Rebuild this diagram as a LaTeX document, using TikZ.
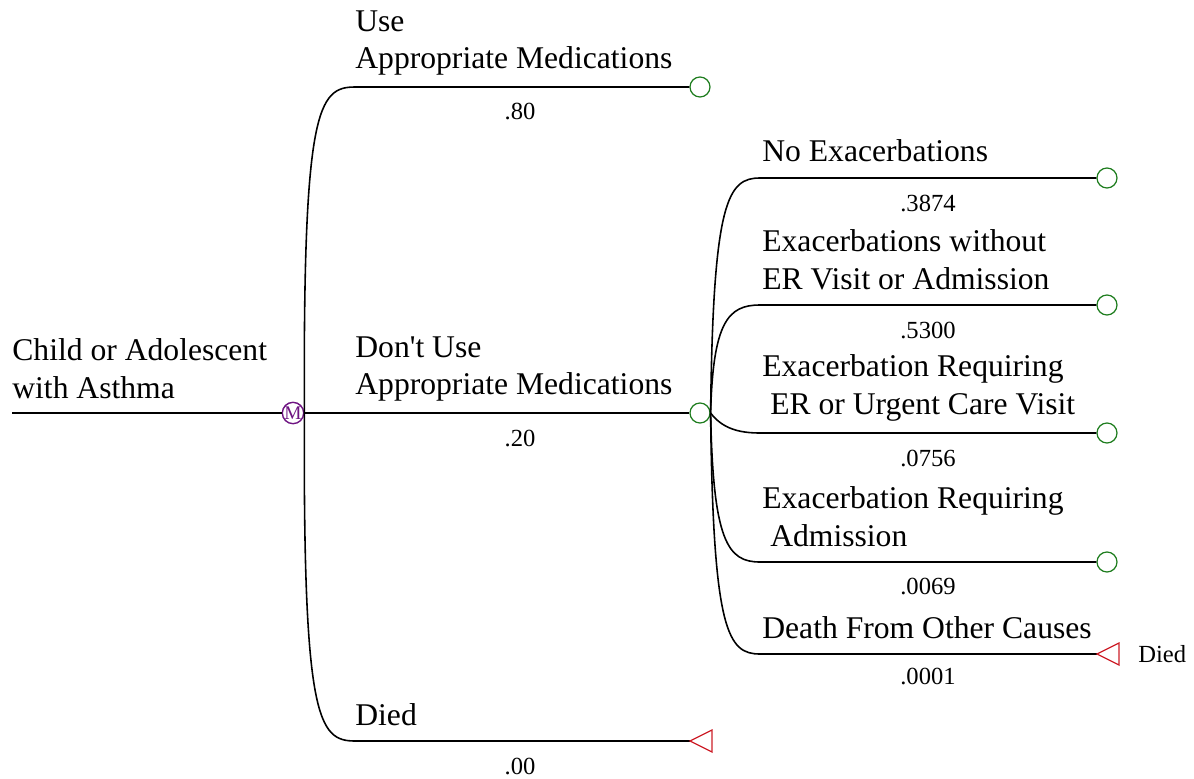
\documentclass[tikz,border=0pt]{standalone}
\usepackage{fontspec}
\setmainfont{Liberation Serif}
\definecolor{nodegreen}{RGB}{30,125,30}
\definecolor{nodepurple}{RGB}{110,20,130}
\definecolor{nodered}{RGB}{205,30,40}
\tikzset{
  branch/.style={black,line width=0.9pt},
  chance/.style={circle,draw=nodegreen,line width=0.7pt,minimum size=0.4cm,inner sep=0pt},
  markov/.style={circle,draw=nodepurple,text=nodepurple,line width=0.8pt,minimum size=0.36cm,inner sep=0pt,font=\fontsize{11}{11}\selectfont},
  died/.style={draw=nodered,line width=0.7pt},
  lbl/.style={anchor=west,align=left,inner sep=0pt,font=\fontsize{18}{21.5}\selectfont},
  prob/.style={inner sep=0pt,font=\fontsize{14}{14}\selectfont}
}
\begin{document}
\begin{tikzpicture}[x=0.02cm,y=-0.02cm]
  \useasboundingbox (0,0) rectangle (1194,778);

  % root and markov node
  \coordinate (root) at (12,413);
  \node[markov] (mk) at (293,413) {M};
  \draw[branch] (root) -- (mk.west);
  \node[lbl] (rootlbl) at (12,369) {Child or Adolescent\\with Asthma};

  % first level
  \node[chance] (use) at (700,87) {};
  \node[chance] (nouse) at (700,413) {};
  \coordinate (dd) at (690,741);
  \coordinate (usein) at (355,87);
  \coordinate (ddin) at (355,741);
  \draw[branch] (mk.east) .. controls (303,110) and (318,87) .. (usein) -- (use.west);
  \draw[branch] (mk.east) -- (nouse.west);
  \draw[branch] (mk.east) .. controls (303,718) and (318,741) .. (ddin) -- (dd);
  \draw[died] (dd) -- ++(22,-11) -- ++(0,22) -- cycle;

  \node[lbl] (uselbl) at (355,43) {Use\\Appropriate Medications};
  \node[lbl] (nouselbl) at (355,369) {Don\textquotesingle t Use\\Appropriate Medications};
  \node[lbl] (ddlbl) at (355,715) {Died};
  \node[prob] (usep) at (520,111) {.80};
  \node[prob] (nousep) at (520,438) {.20};
  \node[prob] (ddp) at (520,766) {.00};

  % second level
  \node[chance] (noex) at (1107,178) {};
  \node[chance] (exwo) at (1107,305) {};
  \node[chance] (exer) at (1107,433) {};
  \node[chance] (exadm) at (1107,562) {};
  \coordinate (oth) at (1097,654);
  \draw[branch] (nouse.east) .. controls (713,200) and (728,178) .. (760,178) -- (noex.west);
  \draw[branch] (nouse.east) .. controls (713,322) and (728,305) .. (760,305) -- (exwo.west);
  \draw[branch] (nouse.east) .. controls (722,428) and (738,433) .. (760,433) -- (exer.west);
  \draw[branch] (nouse.east) .. controls (713,542) and (728,562) .. (760,562) -- (exadm.west);
  \draw[branch] (nouse.east) .. controls (713,632) and (728,654) .. (760,654) -- (oth);
  \draw[died] (oth) -- ++(22,-11) -- ++(0,22) -- cycle;

  \node[lbl] (noexlbl) at (762,151) {No Exacerbations};
  \node[lbl] (exwolbl) at (762,260) {Exacerbations without\\ER Visit or Admission};
  \node[lbl] (exerlbl) at (762,388) {Exacerbation Requiring\\\hspace{0.25em}ER or Urgent Care Visit};
  \node[lbl] (exadmlbl) at (762,517) {Exacerbation Requiring\\\hspace{0.25em}Admission};
  \node[lbl] (othlbl) at (762,628) {Death From Other Causes};
  \node[prob,anchor=west] (othend) at (1138,654) {Died};

  \node[prob] (noexp) at (928,203) {.3874};
  \node[prob] (exwop) at (928,330) {.5300};
  \node[prob] (exerp) at (928,458) {.0756};
  \node[prob] (exadmp) at (928,586) {.0069};
  \node[prob] (othp) at (928,676) {.0001};
\end{tikzpicture}
\end{document}
